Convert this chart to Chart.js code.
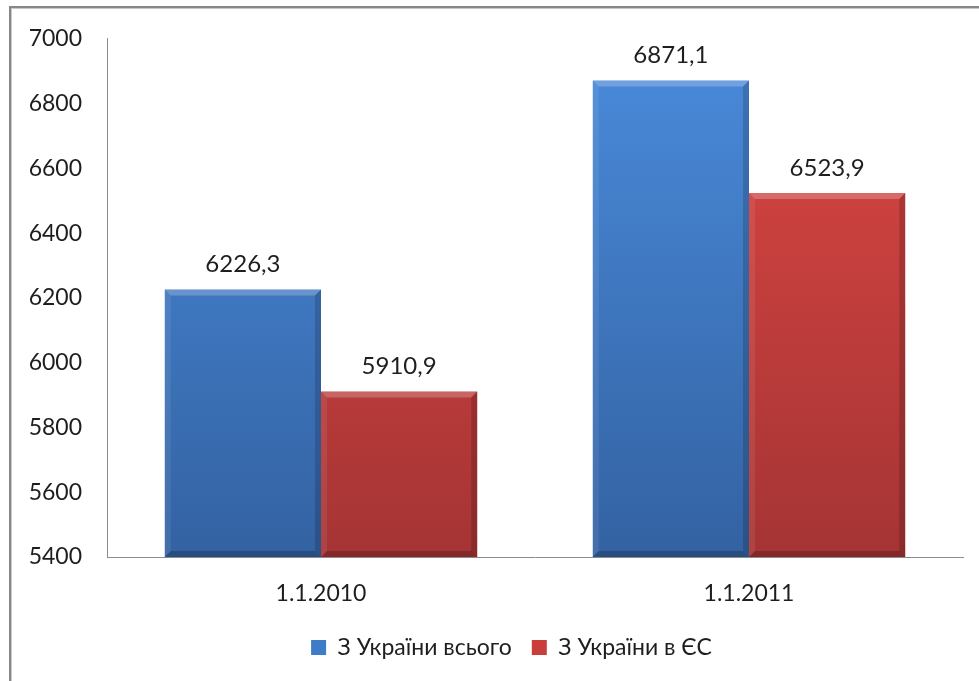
<!DOCTYPE html>
<html>
<head>
<meta charset="utf-8">
<script src="https://cdn.jsdelivr.net/npm/chart.js@4"></script>
<style>
  html, body { margin: 0; padding: 0; background: #fff; overflow: hidden; }
  #wrap { position: relative; width: 979px; height: 681px; }
  #frame { position: absolute; left: 9px; top: 6px; width: 1000px; height: 700px;
           border-left: 2px solid #888; border-top: 2px solid #888;
           box-shadow: inset 1px 1px 0 #c8c8c8; }
  canvas { position: absolute; left: 0; top: 0; }
</style>
</head>
<body>
<div id="wrap">
  <div id="frame"></div>
  <canvas id="chart" width="979" height="681"></canvas>
</div>
<script>
// Дані діаграми
var categories = ['1.1.2010', '1.1.2011'];
var seriesNames = ['З України всього', 'З України в ЄС'];
var totalValues = [6226.3, 6871.1];
var euValues = [5910.9, 6523.9];
var yTicks = [5400, 5600, 5800, 6000, 6200, 6400, 6600, 6800, 7000];

var FONT = 'Lato, "Open Sans", sans-serif';
var TEXT = '#1e1e1e';

function grad(ctx, top, bottom) {
    var area = ctx.chart.chartArea;
    if (!area) return top;
    var g = ctx.chart.ctx.createLinearGradient(0, area.top, 0, area.bottom);
    g.addColorStop(0, top);
    g.addColorStop(1, bottom);
    return g;
}

// зсув легенди вправо, як в оригіналі
var legendShift = {
    id: 'legendShift',
    afterLayout: function(chart) {
        chart.legend.left += 30;
        chart.legend.right += 30;
    }
};

// підписи значень над стовпцями + фаска
var barExtras = {
    id: 'barExtras',
    afterDatasetsDraw: function(chart) {
        var c = chart.ctx;
        var area = chart.chartArea;
        chart.data.datasets.forEach(function(ds, di) {
            chart.getDatasetMeta(di).data.forEach(function(bar, i) {
                var left = bar.x - bar.width / 2, right = bar.x + bar.width / 2;
                var top = bar.y, bottom = Math.min(bar.base, area.bottom);
                var b = 6;
                c.save();
                // верхня фаска
                c.fillStyle = 'rgba(255,255,255,0.22)';
                c.beginPath();
                c.moveTo(left, top); c.lineTo(right, top);
                c.lineTo(right - b, top + b); c.lineTo(left + b, top + b);
                c.closePath(); c.fill();
                // права фаска
                c.fillStyle = 'rgba(0,0,0,0.16)';
                c.beginPath();
                c.moveTo(right, top); c.lineTo(right, bottom);
                c.lineTo(right - b, bottom - b); c.lineTo(right - b, top + b);
                c.closePath(); c.fill();
                // нижня фаска
                c.fillStyle = 'rgba(0,0,0,0.2)';
                c.beginPath();
                c.moveTo(left, bottom); c.lineTo(right, bottom);
                c.lineTo(right - b, bottom - b); c.lineTo(left + b, bottom - b);
                c.closePath(); c.fill();
                // ліва фаска
                c.fillStyle = 'rgba(255,255,255,0.08)';
                c.beginPath();
                c.moveTo(left, top); c.lineTo(left, bottom);
                c.lineTo(left + b, bottom - b); c.lineTo(left + b, top + b);
                c.closePath(); c.fill();
                // підпис
                c.fillStyle = TEXT;
                c.font = '24px ' + FONT;
                c.textAlign = 'center';
                c.textBaseline = 'middle';
                c.fillText(ds.data[i].toFixed(1).replace('.', ','), bar.x, top - 25);
                c.restore();
            });
        });
    }
};

var ctx = document.getElementById('chart').getContext('2d');
var chart = new Chart(ctx, {
    type: 'bar',
    data: {
        labels: categories,
        datasets: [{
            label: seriesNames[0],
            data: totalValues,
            backgroundColor: function(c) { return grad(c, '#4a8bdb', '#3362a2'); },
            borderWidth: 0
        }, {
            label: seriesNames[1],
            data: euValues,
            backgroundColor: function(c) { return grad(c, '#dc4744', '#a53434'); },
            borderWidth: 0
        }]
    },
    options: {
        responsive: false,
        animation: false,
        layout: { padding: { left: 0, right: 16, top: 37, bottom: 12 } },
        datasets: { bar: { categoryPercentage: 0.73, barPercentage: 1.0 } },
        plugins: {
            legend: {
                position: 'bottom',
                labels: {
                    color: TEXT,
                    font: { size: 23, family: FONT },
                    boxWidth: 15,
                    boxHeight: 15,
                    padding: 20,
                    generateLabels: function(chart) {
                        var cols = ['#3f7cc8', '#c93d3b'];
                        return chart.data.datasets.map(function(ds, i) {
                            return { text: ds.label, fillStyle: cols[i], strokeStyle: cols[i], lineWidth: 0, datasetIndex: i, fontColor: TEXT };
                        });
                    }
                }
            },
            tooltip: { enabled: false }
        },
        scales: {
            x: {
                grid: { display: false, drawTicks: false },
                border: { color: '#8c8c8c', width: 1 },
                ticks: { color: TEXT, font: { size: 23, family: FONT }, padding: 23 },
                afterFit: function(s) { s.height = 59; }
            },
            y: {
                min: 5400,
                max: 7000,
                grid: { display: false, drawTicks: false },
                border: { color: '#8c8c8c', width: 1 },
                afterBuildTicks: function(s) { s.ticks = yTicks.map(function(v) { return { value: v }; }); },
                ticks: {
                    color: TEXT,
                    font: { size: 23, family: FONT },
                    padding: 25,
                    callback: function(v) { return String(v); }
                },
                afterFit: function(s) { s.width = 107; }
            }
        }
    },
    plugins: [barExtras, legendShift]
});
</script>
</body>
</html>
